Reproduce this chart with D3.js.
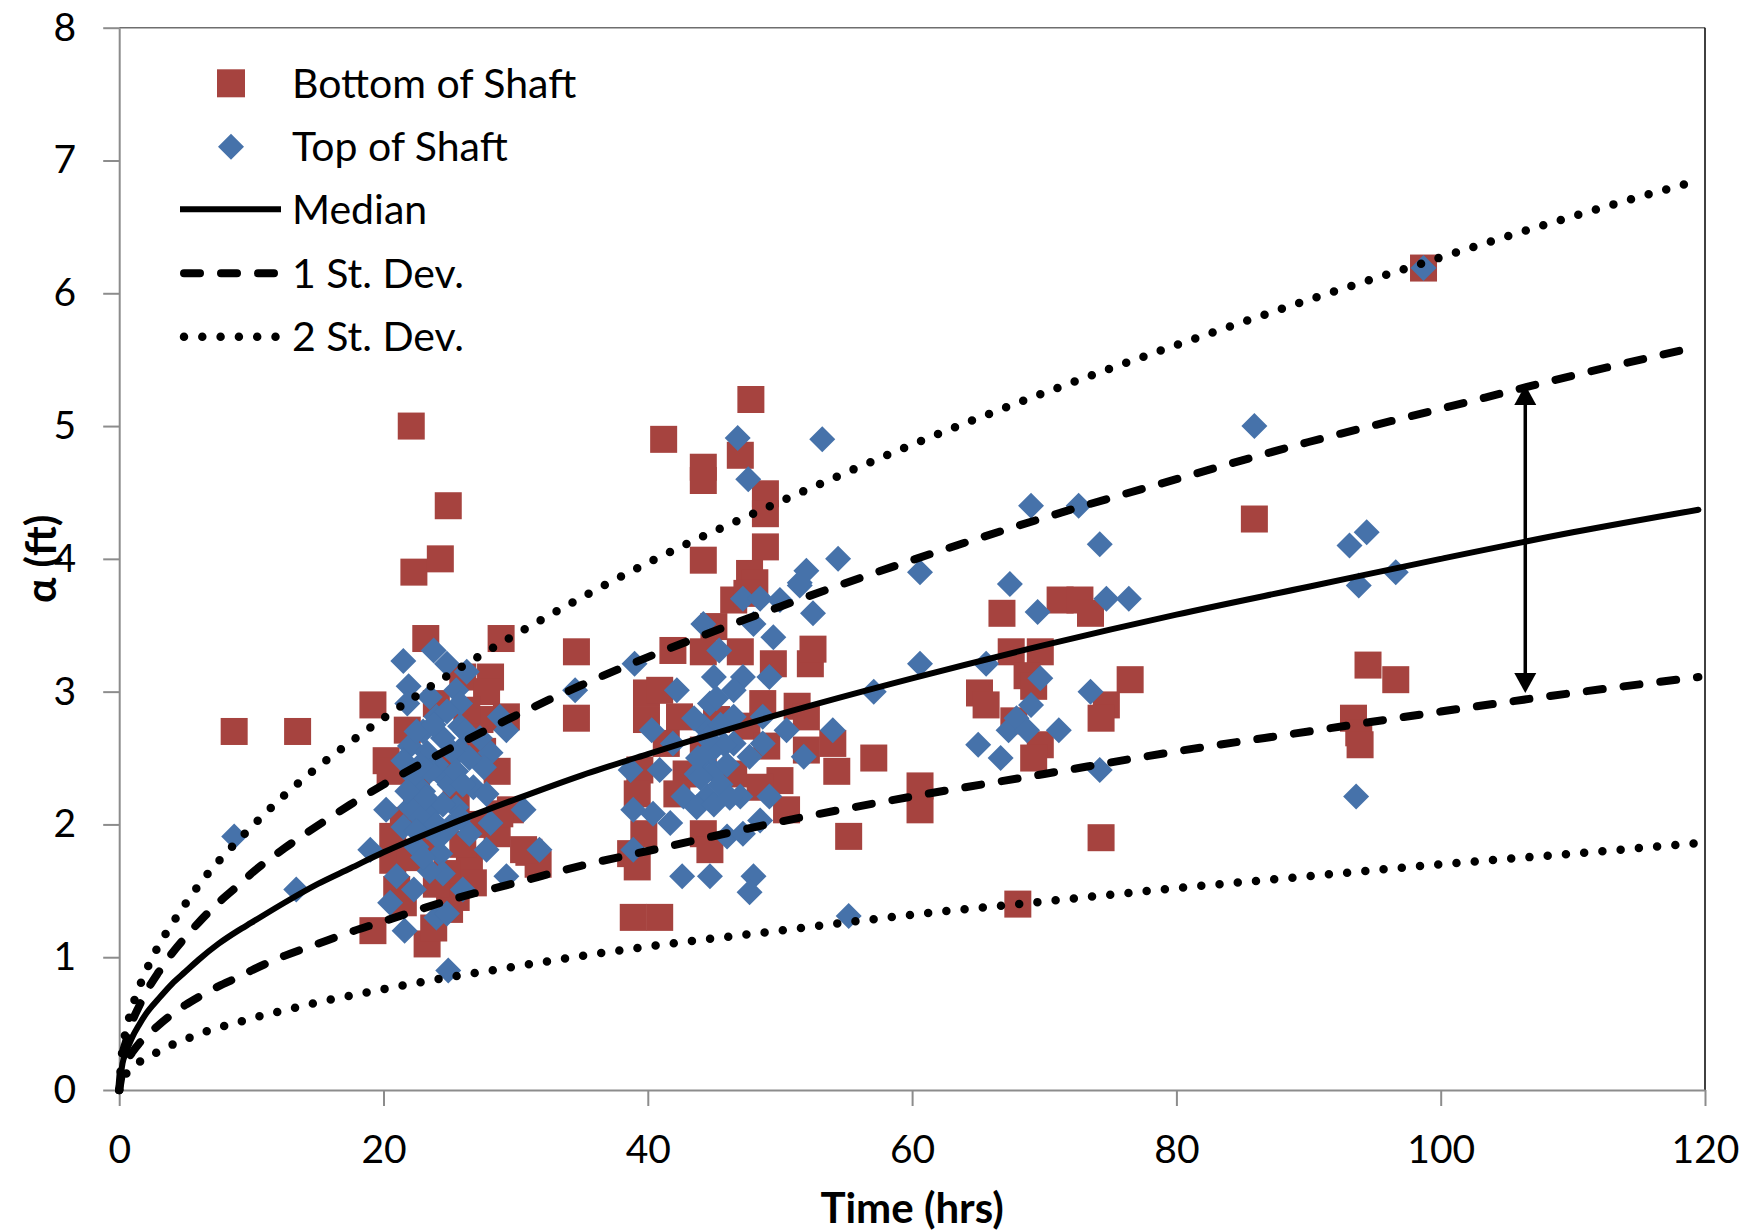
<!DOCTYPE html>
<html><head><meta charset="utf-8">
<script src="https://cdn.jsdelivr.net/npm/d3@7"></script>
<style>
body{margin:0;background:#fff}
svg{display:block}
text{font-family:Lato,"Open Sans",sans-serif;fill:#000}
</style>
</head><body>
<svg id="chart" width="1747" height="1232"></svg>
<script>
// ---------- data ----------
const xTicks = [0, 20, 40, 60, 80, 100, 120];
const yTicks = [0, 1, 2, 3, 4, 5, 6, 7, 8];
const xTitle = "Time (hrs)";
const yTitle = "α (ft)";
const legendLabels = ["Bottom of Shaft", "Top of Shaft", "Median", "1 St. Dev.", "2 St. Dev."];

const curveTime   = [0, 0.25, 0.5, 1, 1.5, 2, 3, 4, 5, 6, 7.5, 9, 10, 12.5, 15, 17.5, 20, 25, 30, 35, 40, 50, 60, 70, 80, 90, 100, 110, 119.5];
const medianAlpha = [0, 0.20, 0.28, 0.40, 0.49, 0.57, 0.69, 0.80, 0.89, 0.98, 1.10, 1.20, 1.26, 1.41, 1.55, 1.67, 1.79, 2.00, 2.19, 2.37, 2.53, 2.83, 3.10, 3.35, 3.58, 3.79, 4.00, 4.20, 4.37];
const sd1Upper    = [0, 0.26, 0.36, 0.52, 0.63, 0.73, 0.89, 1.03, 1.15, 1.26, 1.41, 1.54, 1.63, 1.82, 1.99, 2.15, 2.30, 2.57, 2.82, 3.05, 3.26, 3.64, 3.99, 4.31, 4.60, 4.88, 5.13, 5.38, 5.60];
const sd1Lower    = [0, 0.14, 0.20, 0.285, 0.35, 0.40, 0.49, 0.57, 0.64, 0.70, 0.78, 0.85, 0.90, 1.01, 1.10, 1.19, 1.27, 1.43, 1.56, 1.69, 1.80, 2.02, 2.21, 2.38, 2.55, 2.70, 2.85, 2.99, 3.11];
const sd2Upper    = [0, 0.31, 0.44, 0.63, 0.77, 0.89, 1.09, 1.25, 1.40, 1.54, 1.72, 1.88, 1.98, 2.22, 2.43, 2.62, 2.80, 3.13, 3.43, 3.71, 3.97, 4.43, 4.86, 5.25, 5.61, 5.95, 6.27, 6.58, 6.85];
const sd2Lower    = [0, 0.085, 0.12, 0.17, 0.21, 0.24, 0.29, 0.34, 0.38, 0.42, 0.47, 0.51, 0.54, 0.60, 0.66, 0.71, 0.76, 0.85, 0.93, 1.01, 1.08, 1.20, 1.32, 1.42, 1.52, 1.61, 1.70, 1.78, 1.86];

// Bottom of Shaft [time (hrs), alpha (ft)]
const bottomOfShaft = [
  [8.7,2.70],[13.5,2.70],[19.2,2.90],[19.2,1.20],[22.1,5.00],[22.3,3.90],[24.3,4.00],[24.9,4.40],
  [23.2,3.40],[28.9,3.40],[31.0,1.79],[31.7,1.70],[34.6,3.30],[34.6,2.80],[23.3,1.10],
  [21.8,2.71],[20.2,2.48],[26.0,3.11],[28.1,3.11],[27.8,3.00],[29.3,2.81],[28.6,2.40],[24.5,2.43],
  [29.6,2.11],[30.6,1.81],[23.8,1.22],[20.7,1.73],[21.0,1.51],[21.5,1.41],[25.0,1.36],[26.5,1.71],
  [26.8,1.56],[24.8,1.63],[28.6,1.93],[28.8,2.08],[21.5,2.03],[20.7,1.91],[26.8,2.69],[27.3,2.79],
  [26.3,2.86],[24.0,2.91],[22.5,2.25],[23.5,1.85],[25.5,2.20],[27.0,2.00],[22.0,1.75],[25.5,1.45],
  [24.0,1.55],[27.5,2.55],[26.0,1.85],[20.5,2.40],
  [47.8,5.20],[41.2,4.90],[44.2,4.69],[44.2,4.59],[47.0,4.78],[48.9,4.49],[48.9,4.34],[48.9,4.09],
  [44.2,3.99],[47.7,3.89],[48.1,3.82],[46.5,3.69],[45.0,3.49],[41.9,3.31],[44.2,3.30],[47.0,3.30],
  [49.5,3.21],[52.3,3.21],[47.5,3.74],[39.9,2.99],[40.9,3.01],[48.7,2.91],[51.3,2.89],[52.0,2.81],
  [39.9,2.79],[42.4,2.81],[45.2,2.79],[47.5,2.74],[41.4,2.61],[44.2,2.56],[49.0,2.59],[52.0,2.56],
  [39.4,2.41],[42.9,2.38],[46.5,2.38],[50.0,2.33],[39.2,2.23],[42.2,2.23],[50.5,2.11],[48.5,2.28],
  [39.7,1.93],[44.2,1.93],[44.7,1.81],[38.7,1.78],[39.2,1.68],[57.1,2.50],[55.2,1.91],[54.0,2.61],
  [54.3,2.40],[38.9,1.30],[40.9,1.30],[52.5,3.32],
  [60.6,2.29],[60.6,2.11],[66.8,3.59],[65.1,2.99],[65.6,2.90],[67.5,3.30],[69.7,3.30],[68.7,3.12],
  [69.2,3.04],[67.7,2.78],[69.7,2.60],[69.2,2.50],[71.2,3.69],[72.7,3.69],[73.5,3.59],[76.5,3.09],
  [74.7,2.90],[74.3,2.80],[74.3,1.90],[68.0,1.40],[85.9,4.30],[93.4,2.80],[93.8,2.69],[93.9,2.60],
  [94.5,3.20],[96.6,3.09],[98.7,6.19]
];

// Top of Shaft [time (hrs), alpha (ft)]
const topOfShaft = [
  [8.7,1.91],[13.4,1.51],[19.0,1.81],[21.5,3.23],[23.8,3.31],[24.8,3.21],[21.9,3.04],[21.8,2.91],
  [23.5,2.96],[25.5,3.01],[25.8,2.91],[28.8,2.81],[29.3,2.71],[24.0,2.81],[25.8,2.74],[28.1,2.54],
  [27.6,2.43],[25.8,2.56],[22.0,2.59],[21.5,2.48],[23.3,2.54],[22.3,2.36],[24.5,2.36],[26.8,2.28],
  [27.8,2.23],[20.2,2.11],[22.0,2.13],[23.8,2.13],[25.5,2.13],[21.5,1.98],[23.3,1.98],[25.0,1.98],
  [26.5,1.93],[28.1,2.01],[30.6,2.11],[22.5,1.83],[24.3,1.78],[24.5,1.63],[27.8,1.81],[31.8,1.81],
  [21.0,1.61],[22.3,1.51],[26.0,1.51],[29.3,1.61],[20.5,1.41],[24.0,1.30],[24.8,1.33],[21.6,1.20],
  [24.9,0.90],[34.5,3.01],[23.0,2.25],[24.0,2.45],[25.0,2.30],[23.0,2.70],[24.5,2.65],[26.5,2.50],
  [22.8,2.05],[24.2,1.90],[25.8,2.05],[23.5,1.65],[26.3,3.15],[27.3,2.65],
  [22.5,2.70],[23.5,2.40],[24.5,2.15],[25.2,2.55],[22.8,2.45],[23.8,2.75],[25.5,2.40],[24.0,2.00],
  [22.5,1.95],[23.2,2.20],[26.0,2.30],[24.8,2.85],[23.0,1.75],[26.2,2.70],[21.8,2.25],
  [47.2,3.70],[48.5,3.70],[50.0,3.69],[51.5,3.80],[52.5,3.59],[44.2,3.51],[48.0,3.51],[49.5,3.41],
  [45.4,3.31],[39.0,3.21],[45.0,3.11],[47.2,3.11],[49.2,3.11],[42.2,3.01],[46.5,3.01],[44.7,2.91],
  [46.5,2.81],[48.7,2.81],[40.3,2.71],[44.2,2.74],[50.5,2.71],[41.9,2.61],[46.5,2.61],[48.7,2.61],
  [44.2,2.51],[47.7,2.51],[51.8,2.51],[38.7,2.41],[40.9,2.41],[43.7,2.38],[42.7,2.21],[44.5,2.21],
  [47.0,2.21],[49.2,2.21],[38.9,2.11],[40.4,2.08],[41.7,2.01],[43.7,2.13],[46.0,1.91],[48.5,2.03],
  [47.2,1.93],[38.9,1.81],[42.6,1.61],[44.7,1.61],[48.0,1.61],[47.7,1.49],[46.8,4.91],[53.2,4.90],
  [47.6,4.60],[54.4,4.00],[52.0,3.91],[51.5,3.82],[57.1,3.00],[54.0,2.71],[45.0,2.40],[45.5,2.30],
  [44.0,2.35],[45.8,2.60],[43.5,2.80],[45.2,2.95],
  [44.8,2.55],[45.5,2.75],[46.0,2.45],[45.0,2.15],[44.5,2.65],[43.8,2.50],[46.2,2.20],
  [55.2,1.31],[60.6,3.90],[60.6,3.21],[65.0,2.60],[65.6,3.21],[66.7,2.50],[67.3,2.71],[67.4,3.81],
  [67.9,2.80],[68.7,2.71],[69.0,2.90],[69.0,4.40],[69.5,3.60],[69.7,3.10],[71.1,2.71],[72.6,4.40],
  [73.5,3.00],[74.2,4.11],[74.2,2.41],[74.7,3.70],[76.4,3.70],[85.9,5.00],[93.1,4.10],[94.4,4.20],
  [93.8,3.80],[96.6,3.90],[93.6,2.21],[98.7,6.19]
];

// double-headed arrow annotation: [time, from alpha, to alpha]
const arrowSpan = [106.4, 2.99, 5.31];

// ---------- drawing ----------
const plot = {left: 119.2, right: 1705, top: 27.7, bottom: 1090};
const svg = d3.select("#chart");
const x = d3.scaleLinear().domain([0, 120]).range([plot.left, plot.right]);
const y = d3.scaleLinear().domain([0, 8]).range([plot.bottom, plot.top]);

const red = "#A6433F", blue = "#4672AA", axisGray = "#8c8c8c";
const FONT = 39, LEGFONT = 41, TITLEFONT = 42;

// plot border (top, right)
svg.append("line").attr("x1", x(0)).attr("x2", x(120)).attr("y1", y(8)).attr("y2", y(8))
  .attr("stroke", "#6e6e6e").attr("stroke-width", 1.6);
svg.append("line").attr("x1", x(120)).attr("x2", x(120)).attr("y1", y(8)).attr("y2", y(0))
  .attr("stroke", "#111").attr("stroke-width", 1.6);

// axes
const gx = svg.append("g").attr("transform", `translate(0,${plot.bottom})`)
  .call(d3.axisBottom(x).tickValues(xTicks).tickSize(16).tickSizeOuter(0).tickPadding(29).tickFormat(d3.format("d")));
const gy = svg.append("g").attr("transform", `translate(${plot.left},0)`)
  .call(d3.axisLeft(y).tickValues(yTicks).tickSize(16).tickSizeOuter(0).tickPadding(27).tickFormat(d3.format("d")));
[gx, gy].forEach(g => {
  g.select(".domain").attr("stroke", axisGray).attr("stroke-width", 2);
  g.selectAll(".tick line").attr("stroke", axisGray).attr("stroke-width", 2);
  g.selectAll(".tick text").attr("font-size", FONT).attr("font-family", "Lato").attr("fill", "#000");
});

// axis titles
svg.append("text").attr("x", (plot.left + plot.right) / 2).attr("y", 1223)
  .attr("text-anchor", "middle").attr("font-size", TITLEFONT).attr("font-weight", "bold").text(xTitle);
svg.append("text").attr("transform", `translate(56,${(plot.top + plot.bottom) / 2}) rotate(-90)`)
  .attr("text-anchor", "middle").attr("font-size", TITLEFONT).attr("font-weight", "bold").text(yTitle);

// scatter: bottom of shaft (squares) first, then top of shaft (diamonds)
const SQ = 27;
svg.append("g").selectAll("rect").data(bottomOfShaft).join("rect")
  .attr("x", d => x(d[0]) - SQ / 2).attr("y", d => y(d[1]) - SQ / 2)
  .attr("width", SQ).attr("height", SQ).attr("fill", red);

const DI = 13;
const diamond = `M0,${-DI}L${DI},0L0,${DI}L${-DI},0Z`;
svg.append("g").selectAll("path").data(topOfShaft).join("path")
  .attr("transform", d => `translate(${x(d[0])},${y(d[1])})`)
  .attr("d", diamond).attr("fill", blue);

// curves
const lineGen = d3.line().x(d => x(d[0])).y(d => y(d[1])).curve(d3.curveMonotoneX);
const styles = {
  solid:  {w: 6, dash: null},
  dashed: {w: 8, dash: "16 21"},
  dotted: {w: 8.5, dash: "0 18.3"}
};
function drawCurve(vals, st) {
  const pts = curveTime.map((t, i) => [t, vals[i]]);
  svg.append("path").attr("d", lineGen(pts)).attr("fill", "none").attr("stroke", "#000")
    .attr("stroke-width", st.w).attr("stroke-dasharray", st.dash).attr("stroke-linecap", "round")
    .attr("stroke-linejoin", "round");
}
drawCurve(sd2Upper, styles.dotted);
drawCurve(sd2Lower, styles.dotted);
drawCurve(sd1Upper, styles.dashed);
drawCurve(sd1Lower, styles.dashed);
drawCurve(medianAlpha, styles.solid);

// double arrow
const ax = x(arrowSpan[0]), ayLow = y(arrowSpan[1]), ayHigh = y(arrowSpan[2]);
const AH = 20, AW = 11;
svg.append("line").attr("x1", ax).attr("x2", ax).attr("y1", ayHigh + AH - 2).attr("y2", ayLow - AH + 2)
  .attr("stroke", "#000").attr("stroke-width", 3.5);
svg.append("path").attr("d", `M${ax},${ayHigh}L${ax + AW},${ayHigh + AH}L${ax - AW},${ayHigh + AH}Z`).attr("fill", "#000");
svg.append("path").attr("d", `M${ax},${ayLow}L${ax + AW},${ayLow - AH}L${ax - AW},${ayLow - AH}Z`).attr("fill", "#000");

// legend
const legRows = [83.3, 146.7, 209.3, 273.3, 336.7];
const legMarkerX = 231, legLineX0 = 180, legLineX1 = 281, legTextX = 292;
const lg = svg.append("g");
lg.append("rect").attr("x", legMarkerX - 14).attr("y", legRows[0] - 14).attr("width", 28).attr("height", 28).attr("fill", red);
lg.append("path").attr("transform", `translate(${legMarkerX},${legRows[1]})`).attr("d", diamond).attr("fill", blue);
[[2, styles.solid], [3, styles.dashed], [4, styles.dotted]].forEach(([i, st]) => {
  lg.append("line").attr("x1", legLineX0 + (st.dash ? 4 : 0)).attr("x2", legLineX1)
    .attr("y1", legRows[i]).attr("y2", legRows[i])
    .attr("stroke", "#000").attr("stroke-width", st.w).attr("stroke-dasharray", st.dash)
    .attr("stroke-linecap", st.dash ? "round" : "butt");
});
legendLabels.forEach((lab, i) => {
  lg.append("text").attr("x", legTextX).attr("y", legRows[i]).attr("dy", "0.36em")
    .attr("font-size", LEGFONT).text(lab);
});
</script>
</body></html>
